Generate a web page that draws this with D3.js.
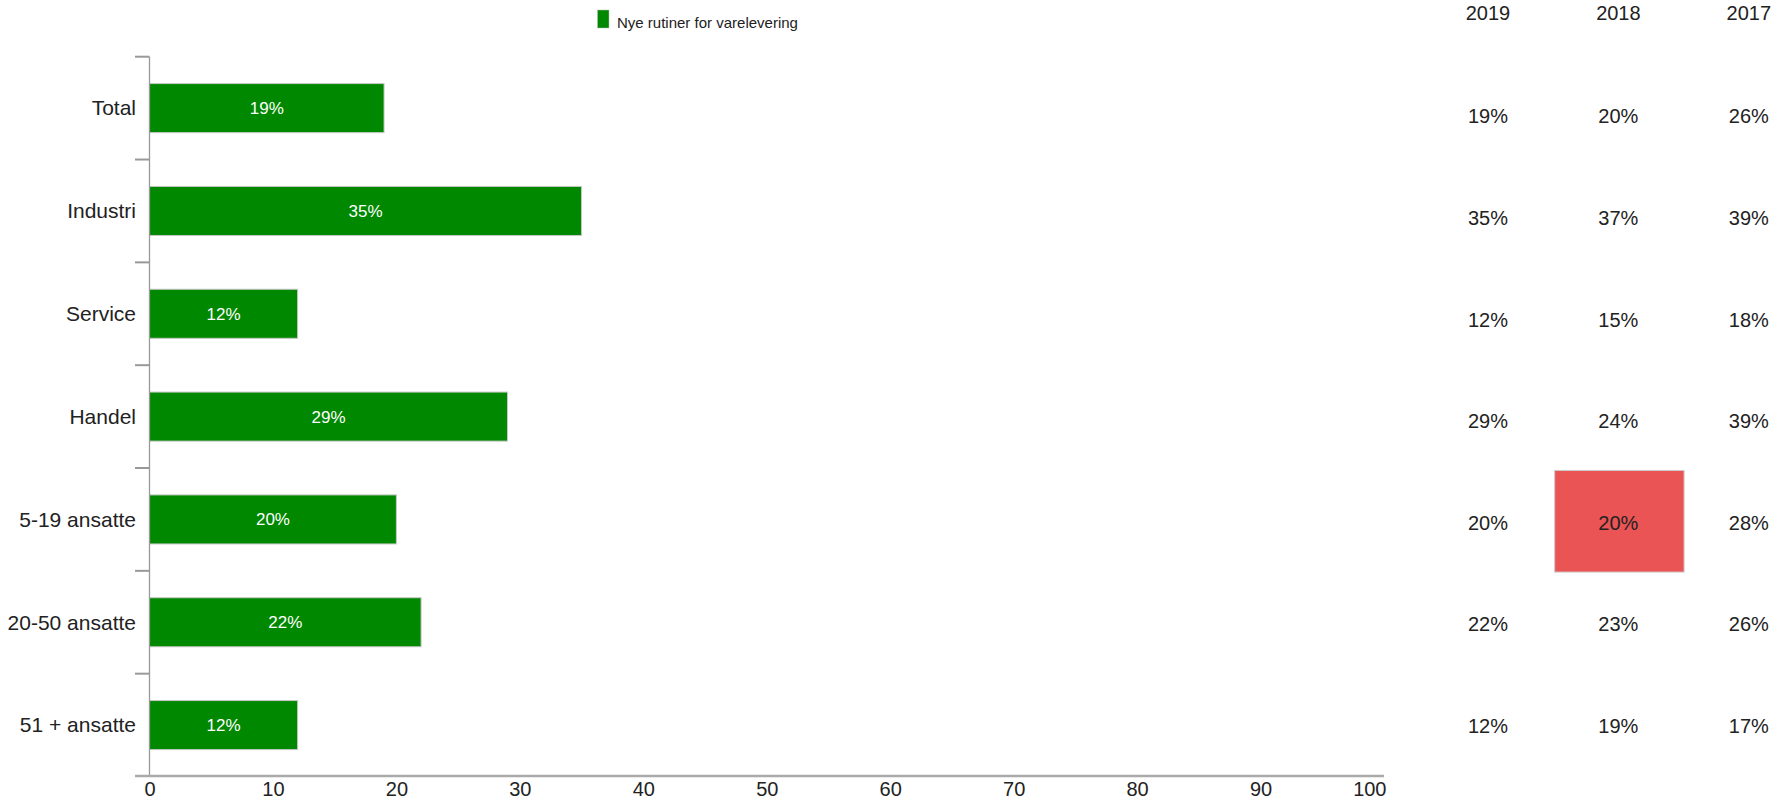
<!DOCTYPE html>
<html>
<head>
<meta charset="utf-8">
<script src="https://cdn.jsdelivr.net/npm/d3@7"></script>
<style>
  html, body { margin: 0; padding: 0; background: #fff; }
  svg { display: block; font-family: "Liberation Sans", Arial, sans-serif; }
</style>
</head>
<body>
<svg id="chart" width="1777" height="799"></svg>
<script>
// ---- data ----
const categories = ["Total", "Industri", "Service", "Handel", "5-19 ansatte", "20-50 ansatte", "51 + ansatte"];
const values2019 = [19, 35, 12, 29, 20, 22, 12];
const values2018 = [20, 37, 15, 24, 20, 23, 19];
const values2017 = [26, 39, 18, 39, 28, 26, 17];
const years = ["2019", "2018", "2017"];
const xTicks = [0, 10, 20, 30, 40, 50, 60, 70, 80, 90, 100];
const seriesName = "Nye rutiner for varelevering";
const highlightCells = [{ category: "5-19 ansatte", year: "2018" }];

const tableValues = { "2019": values2019, "2018": values2018, "2017": values2017 };

// ---- layout ----
const svg = d3.select("#chart");
const green = "#008800";
const red = "#EB5454";
const textColor = "#222";

const x = d3.scaleLinear().domain([0, 100]).range([149.5, 1384]);
const y = d3.scaleBand().domain(categories).range([56.7, 776.5]).paddingInner(0.523).paddingOuter(0.2615);
const yStep = d3.scaleBand().domain(categories).range([56.7, 776.5]).padding(0);

// legend
const lg = svg.append("g");
lg.append("rect").attr("x", 597.5).attr("y", 10).attr("width", 11.5).attr("height", 18)
  .attr("fill", green).attr("stroke", "#bbb").attr("stroke-width", 0.5);
lg.append("text").attr("x", 617).attr("y", 27.5).attr("font-size", 15).attr("fill", textColor).text(seriesName);

// bars
const bars = svg.append("g");
bars.selectAll("rect").data(categories).join("rect")
  .attr("x", x(0))
  .attr("y", d => y(d))
  .attr("width", (d, i) => x(values2019[i]) - x(0))
  .attr("height", y.bandwidth())
  .attr("fill", green)
  .attr("stroke", "#c8c8c8")
  .attr("stroke-width", 1);

bars.selectAll("text").data(categories).join("text")
  .attr("x", (d, i) => (x(0) + x(values2019[i])) / 2)
  .attr("y", d => y(d) + y.bandwidth() / 2)
  .attr("dy", "0.35em")
  .attr("text-anchor", "middle")
  .attr("font-size", 17)
  .attr("fill", "#fff")
  .text((d, i) => values2019[i] + "%");

// y axis: line + boundary ticks + labels
const ya = svg.append("g");
ya.append("line").attr("x1", x(0)).attr("x2", x(0)).attr("y1", 56.7).attr("y2", 776.5)
  .attr("stroke", "#999").attr("stroke-width", 1.3);
const boundaries = categories.map(c => yStep(c));
ya.selectAll("line.tick").data(boundaries).join("line").attr("class", "tick")
  .attr("x1", 135).attr("x2", x(0)).attr("y1", d => d).attr("y2", d => d)
  .attr("stroke", "#999").attr("stroke-width", 2);
ya.selectAll("text").data(categories).join("text")
  .attr("x", 136)
  .attr("y", d => y(d) + y.bandwidth() / 2)
  .attr("dy", "0.35em")
  .attr("text-anchor", "end")
  .attr("font-size", 21)
  .attr("fill", textColor)
  .text(d => d);

// x axis
const xAxis = d3.axisBottom(x).tickValues(xTicks).tickSize(0).tickPadding(6).tickFormat(d3.format("d"));
const xa = svg.append("g").attr("transform", "translate(0,776)").call(xAxis);
xa.select(".domain").remove();
xa.append("line").attr("x1", 135).attr("x2", x(100)).attr("y1", 0).attr("y2", 0)
  .attr("stroke", "#aaa").attr("stroke-width", 2.5);
xa.selectAll(".tick text").attr("font-size", 20).attr("fill", textColor)
  .attr("font-family", "'Liberation Sans', Arial, sans-serif");
// last label kept inside the plot edge
xa.selectAll(".tick").filter(d => d === xTicks[xTicks.length - 1]).select("text")
  .attr("text-anchor", "end").attr("x", 2);
</script>
<script>
// table
const tx = d3.scaleBand().domain(years).range([1422.75, 1814]).padding(0);
const ty = d3.scaleBand().domain(categories).range([65.5, 776.8]).padding(0);

const tbl = svg.append("g");
tbl.selectAll("rect.hl").data(highlightCells).join("rect").attr("class", "hl")
  .attr("x", d => tx(d.year) + 1.5)
  .attr("y", d => ty(d.category) - 1.5)
  .attr("width", tx.bandwidth() - 1)
  .attr("height", ty.bandwidth())
  .attr("fill", red)
  .attr("stroke", "#ccc")
  .attr("stroke-width", 1);

tbl.selectAll("text.head").data(years).join("text").attr("class", "head")
  .attr("x", d => tx(d) + tx.bandwidth() / 2)
  .attr("y", 20)
  .attr("text-anchor", "middle")
  .attr("font-size", 20)
  .attr("fill", textColor)
  .text(d => d);

const cells = [];
years.forEach(yr => categories.forEach((c, i) => cells.push({ year: yr, category: c, value: tableValues[yr][i] })));
tbl.selectAll("text.cell").data(cells).join("text").attr("class", "cell")
  .attr("x", d => tx(d.year) + tx.bandwidth() / 2)
  .attr("y", d => ty(d.category) + ty.bandwidth() / 2)
  .attr("dy", "0.35em")
  .attr("text-anchor", "middle")
  .attr("font-size", 20)
  .attr("fill", textColor)
  .text(d => d.value + "%");
</script>
</body>
</html>
